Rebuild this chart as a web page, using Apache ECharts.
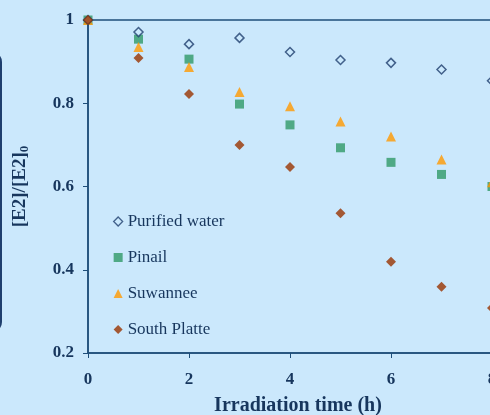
<!DOCTYPE html>
<html><head><meta charset="utf-8">
<script src="https://cdn.jsdelivr.net/npm/echarts@6/dist/echarts.min.js"></script>
<style>html,body{margin:0;padding:0;background:#cbe8fc;}#c{width:490px;height:415px;}</style>
</head><body><div id="c"></div>
<script>
const hours = [0, 1, 2, 3, 4, 5, 6, 7, 8];
const purifiedWater = [1.0, 0.971, 0.942, 0.957, 0.923, 0.904, 0.897, 0.881, 0.854];
const pinail = [1.0, 0.954, 0.906, 0.798, 0.748, 0.693, 0.658, 0.629, 0.60];
const suwannee = [1.0, 0.935, 0.887, 0.827, 0.793, 0.756, 0.72, 0.665, 0.61];
const southPlatte = [1.0, 0.909, 0.822, 0.70, 0.647, 0.536, 0.419, 0.359, 0.308];
const xTicks = [0, 2, 4, 6, 8];
const yTicks = [0.2, 0.4, 0.6, 0.8, 1];

const navy = '#17365d';
const font = 'Liberation Serif';
const pts = arr => hours.map((h, i) => [h, arr[i]]);

const chart = echarts.init(document.getElementById('c'));
chart.setOption({
  backgroundColor: '#cbe8fc',
  animation: false,
  grid: { left: 88, top: 20, width: 404, height: 333, show: true, borderColor: '#1f4e79', borderWidth: 1.5,
    outerBoundsMode: 'none', containLabel: false },
  xAxis: {
    type: 'value', min: 0, max: 8, interval: 2,
    axisLine: { lineStyle: { color: '#1f4e79', width: 1.5 } },
    axisTick: { show: true, length: 5, lineStyle: { color: '#1f4e79' } },
    splitLine: { show: false },
    axisLabel: { color: navy, fontFamily: font, fontWeight: 'bold', fontSize: 17, margin: 18,
      formatter: v => xTicks.includes(v) ? String(v) : '' }
  },
  yAxis: {
    type: 'value', min: 0.2, max: 1, interval: 0.2,
    name: '{a|[E2]/[E2]}{s|0}', nameLocation: 'middle', nameGap: 57, nameRotate: 90,
    nameTextStyle: { rich: {
      a: { color: navy, fontFamily: font, fontWeight: 'bold', fontSize: 19 },
      s: { color: navy, fontFamily: font, fontWeight: 'bold', fontSize: 13, padding: [9, 0, 0, 0] } } },
    axisLine: { show: true, lineStyle: { color: '#1f4e79', width: 1.5 } },
    axisTick: { show: true, length: 5, lineStyle: { color: '#1f4e79' } },
    splitLine: { show: false },
    axisLabel: { color: navy, fontFamily: font, fontWeight: 'bold', fontSize: 17, margin: 14,
      formatter: v => { const t = yTicks.find(y => Math.abs(y - v) < 1e-6); return t === undefined ? '' : (t === 1 ? '1' : t.toFixed(1)); } }
  },
  legend: {
    orient: 'vertical', left: 108, top: 208, itemWidth: 9, itemHeight: 9, itemGap: 19,
    textStyle: { color: navy, fontFamily: font, fontSize: 17 },
    data: [
      { name: 'Purified water', itemStyle: { borderWidth: 1.3 } },
      { name: 'Pinail' }, { name: 'Suwannee' }, { name: 'South Platte' }
    ]
  },
  graphic: [
    { type: 'rect', shape: { x: -100, y: 52, width: 101, height: 280, r: 10 }, style: { fill: 'none', stroke: '#1f3f6e', lineWidth: 2 }, z: -1 },
    { type: 'text', x: 298, y: 406, style: { text: 'Irradiation time (h)', fill: navy, font: 'bold 20px "Liberation Serif"', textAlign: 'center', textVerticalAlign: 'middle' } }
  ],
  series: [
    { name: 'Purified water', type: 'scatter', data: pts(purifiedWater), symbol: 'diamond', symbolSize: 9,
      itemStyle: { color: '#cbe8fc', borderColor: '#1f3f6e', borderWidth: 1.5 }, z: 3 },
    { name: 'Pinail', type: 'scatter', data: pts(pinail), symbol: 'rect', symbolSize: 9,
      itemStyle: { color: '#2f9866' }, z: 2 },
    { name: 'Suwannee', type: 'scatter', data: pts(suwannee), symbol: 'triangle', symbolSize: 10,
      itemStyle: { color: '#ff9900' }, z: 2 },
    { name: 'South Platte', type: 'scatter', data: pts(southPlatte), symbol: 'diamond', symbolSize: 10,
      itemStyle: { color: '#993300' }, z: 4 }
  ]
});
</script></body></html>
